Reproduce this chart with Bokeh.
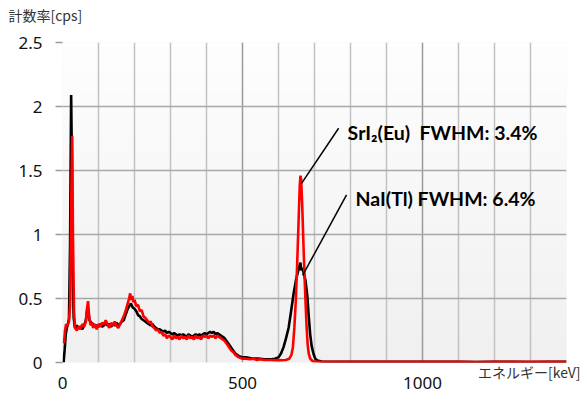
import numpy as np
from bokeh.plotting import figure
from bokeh.models import Range1d, FixedTicker, Label, Title
from bokeh.embed import file_html
from bokeh.resources import INLINE

# ---- data ----
nai_kev = [3, 6, 9, 12, 15, 18, 21, 24, 26, 28, 31, 34,
           35, 40, 45, 50, 55, 60, 65, 70, 75, 80, 85, 90, 95, 100, 105, 110, 115, 120,
           125, 130, 135, 140, 145, 150, 155, 160, 165, 170, 175, 180, 185, 190, 195, 200,
           205, 210, 215, 220, 225, 230, 235, 240, 245, 250, 255, 260, 265, 270, 275, 280,
           285, 290, 295, 300, 305, 310, 315, 320, 325, 330, 335, 340, 345, 350, 355, 360,
           365, 370, 375, 380, 385, 390, 395, 400, 405, 410, 415, 420, 425, 430, 435, 440,
           445, 450, 455, 460, 465, 470, 475, 480, 485, 490, 495, 500, 510, 520, 530, 540,
           550, 560, 570, 580, 590, 600, 607, 614, 621, 628, 635, 642, 649, 655, 659, 661,
           663, 666, 670, 675, 680, 684, 688, 692, 697, 702, 708, 720, 760, 800, 850, 900,
           950, 1000, 1050, 1100, 1150, 1200, 1250, 1300, 1350, 1400]
nai_cps = [0.00, 0.10, 0.22, 0.27, 0.30, 0.34, 0.90, 2.09, 1.60, 0.70, 0.35, 0.28,
           0.27, 0.29, 0.27, 0.28, 0.26, 0.29, 0.33, 0.44, 0.33, 0.31, 0.30, 0.28, 0.29, 0.28, 0.30, 0.28, 0.29, 0.31,
           0.29, 0.30, 0.28, 0.30, 0.29, 0.31, 0.29, 0.30, 0.32, 0.33, 0.37, 0.41, 0.44, 0.46, 0.43, 0.42,
           0.40, 0.37, 0.36, 0.34, 0.33, 0.32, 0.31, 0.30, 0.29, 0.30, 0.28, 0.27, 0.26, 0.26, 0.25, 0.24,
           0.25, 0.23, 0.24, 0.23, 0.22, 0.23, 0.22, 0.21, 0.22, 0.21, 0.22, 0.21, 0.20, 0.22, 0.21, 0.20,
           0.21, 0.22, 0.21, 0.22, 0.21, 0.22, 0.23, 0.22, 0.23, 0.24, 0.23, 0.24, 0.22, 0.23, 0.22, 0.21,
           0.20, 0.19, 0.17, 0.15, 0.13, 0.11, 0.09, 0.07, 0.06, 0.05, 0.045, 0.04, 0.04, 0.035, 0.03, 0.03,
           0.028, 0.025, 0.025, 0.025, 0.03, 0.04, 0.07, 0.12, 0.19, 0.27, 0.40, 0.54, 0.65, 0.72, 0.76, 0.78,
           0.72, 0.74, 0.70, 0.64, 0.52, 0.36, 0.22, 0.13, 0.07, 0.03, 0.015, 0.008, 0.006, 0.005, 0.006, 0.005,
           0.005, 0.006, 0.005, 0.005, 0.004, 0.005, 0.005, 0.004, 0.005, 0.005]

sri_kev = [4, 7, 10, 14, 18, 21, 24, 27, 29, 32, 35, 40, 45, 50, 55, 60, 65, 68, 71, 74, 78,
           82, 85, 90, 95, 100, 105, 110, 115, 120, 125, 130, 135, 140, 145, 150, 155, 160, 165,
           170, 175, 180, 185, 188, 191, 194, 197, 200, 205, 210, 215, 220, 225, 230, 235, 240,
           245, 250, 255, 260, 265, 270, 275, 280, 285, 290, 295, 300, 305, 310, 315, 320, 325,
           330, 335, 340, 345, 350, 355, 360, 365, 370, 375, 380, 385, 390, 395, 400, 405, 410,
           415, 420, 425, 430, 435, 440, 445, 450, 455, 460, 465, 470, 475, 480, 485, 490, 495,
           500, 510, 520, 530, 540, 550, 560, 570, 580, 590, 600, 610, 620, 630, 636, 640, 644,
           648, 652, 656, 659, 661, 663, 666, 669, 672, 675, 678, 681, 684, 688, 695, 710, 750,
           800, 850, 900, 950, 1000, 1050, 1100, 1150, 1200, 1250, 1300, 1350, 1400]
sri_cps = [0.15, 0.25, 0.30, 0.29, 0.32, 0.45, 1.20, 1.77, 1.00, 0.40, 0.27, 0.25, 0.28, 0.26, 0.30, 0.28, 0.32, 0.42, 0.48, 0.36, 0.29,
           0.31, 0.27, 0.30, 0.26, 0.30, 0.28, 0.31, 0.30, 0.33, 0.30, 0.27, 0.31, 0.29, 0.32, 0.29, 0.27, 0.30, 0.33,
           0.36, 0.40, 0.45, 0.50, 0.54, 0.49, 0.52, 0.47, 0.49, 0.44, 0.45, 0.40, 0.41, 0.36, 0.35, 0.33, 0.31,
           0.32, 0.28, 0.27, 0.25, 0.26, 0.23, 0.24, 0.21, 0.22, 0.19, 0.21, 0.20, 0.18, 0.21, 0.19, 0.20, 0.18,
           0.21, 0.19, 0.20, 0.18, 0.21, 0.19, 0.20, 0.18, 0.21, 0.19, 0.20, 0.18, 0.21, 0.20, 0.21, 0.19, 0.21,
           0.20, 0.21, 0.19, 0.21, 0.20, 0.19, 0.18, 0.17, 0.15, 0.13, 0.11, 0.09, 0.08, 0.06, 0.05, 0.04, 0.035,
           0.03, 0.03, 0.025, 0.03, 0.02, 0.025, 0.02, 0.02, 0.02, 0.018, 0.02, 0.018, 0.02, 0.03, 0.06, 0.12, 0.27,
           0.48, 0.78, 1.12, 1.38, 1.46, 1.43, 1.22, 0.95, 0.70, 0.48, 0.28, 0.14, 0.07, 0.03, 0.01, 0.005, 0.006,
           0.005, 0.006, 0.005, 0.005, 0.006, 0.005, 0.005, 0.004, 0.005, 0.005, 0.006, 0.005, 0.005]

x_major_ticks = [0, 500, 1000]
x_minor_ticks = [100, 200, 300, 400, 600, 700, 800, 900, 1100, 1200, 1300, 1400]
y_ticks = [0, 0.5, 1, 1.5, 2, 2.5]
y_tick_labels = ["0", "0.5", "1", "1.5", "2", "2.5"]

ann_texts = ["SrI\u2082(Eu)\u00a0 FWHM: 3.4%", "NaI(Tl) FWHM: 6.4%"]
ann_text_x = [792, 814]
ann_text_y = [1.80, 1.28]
lead_x0 = [767, 789]
lead_y0 = [1.83, 1.31]
lead_x1 = [664, 667]
lead_y1 = [1.40, 0.68]

y_title = "計数率[cps]"
x_title = "エネルギー[keV]"

p = figure(width=582, height=396, output_backend="svg", toolbar_location=None,
           x_range=Range1d(0, 1400), y_range=Range1d(0, 2.5),
           min_border_left=62, min_border_right=16, min_border_top=42, min_border_bottom=34)
p.outline_line_color = None
p.background_fill_color = "#f4f4f4"
p.border_fill_color = "white"

# subtle vertical gradient in the plot area
grad = np.linspace(240, 254, 64).astype(np.uint32)
img = np.empty((64, 1), dtype=np.uint32)
view = img.view(dtype=np.uint8).reshape((64, 1, 4))
view[:, 0, 0] = grad
view[:, 0, 1] = grad
view[:, 0, 2] = grad
view[:, 0, 3] = 255
gr = p.image_rgba(image=[img], x=0, y=0, dw=1400, dh=2.5)
gr.level = "image"

# grids
p.xaxis.ticker = FixedTicker(ticks=x_major_ticks, minor_ticks=x_minor_ticks)
p.yaxis.ticker = FixedTicker(ticks=y_ticks)
p.xgrid.grid_line_color = "#9a9a9a"
p.xgrid.grid_line_width = 1.5
p.xgrid.minor_grid_line_color = "#c2c2c2"
p.xgrid.minor_grid_line_width = 1.5
p.ygrid.grid_line_color = "#a8a8a8"
p.ygrid.grid_line_width = 1.5

for ax in (p.xaxis, p.yaxis):
    ax.axis_line_color = None
    ax.major_tick_line_color = "#9a9a9a"
    ax.major_tick_line_width = 1.5
    ax.major_tick_in = 0
    ax.minor_tick_line_color = None
    ax.major_label_text_font = "Noto Sans"
    ax.major_label_text_font_size = "17px"
    ax.major_label_text_color = "#111111"
p.yaxis.major_tick_out = 7
p.yaxis.major_label_standoff = 13
p.xaxis.major_tick_out = 0
p.xaxis.major_tick_line_color = None
p.xaxis.major_label_standoff = -10
p.yaxis.major_label_overrides = {t: s for t, s in zip(y_ticks, y_tick_labels)}

# series
p.line(nai_kev, nai_cps, line_color="black", line_width=2.6)
p.line(sri_kev, sri_cps, line_color="#ff0000", line_width=2.6)

# leader lines and annotations
p.segment(x0=lead_x0, y0=lead_y0, x1=lead_x1, y1=lead_y1, line_color="black", line_width=1.5)
for t, tx, ty in zip(ann_texts, ann_text_x, ann_text_y):
    p.add_layout(Label(x=tx, y=ty, text=t, text_font="Lato", text_font_style="bold",
                       text_font_size="19.5px", text_baseline="middle", text_align="left",
                       text_color="black"))

# axis titles as Title panels
yt = Title(text=y_title + "\n", align="left", offset=-54, vertical_align="top", standoff=0,
           text_font="Noto Sans CJK JP", text_font_size="14px", text_font_style="normal",
           text_line_height=0.78, text_color="#333333")
p.add_layout(yt, "above")
xt = Title(text=x_title, align="right", offset=-14, vertical_align="top", standoff=-2,
           text_font="Noto Sans CJK JP", text_font_size="14px", text_font_style="normal",
           text_color="#333333")
p.below = [xt] + list(p.below)

open("out.html", "w").write(file_html(p, INLINE))
